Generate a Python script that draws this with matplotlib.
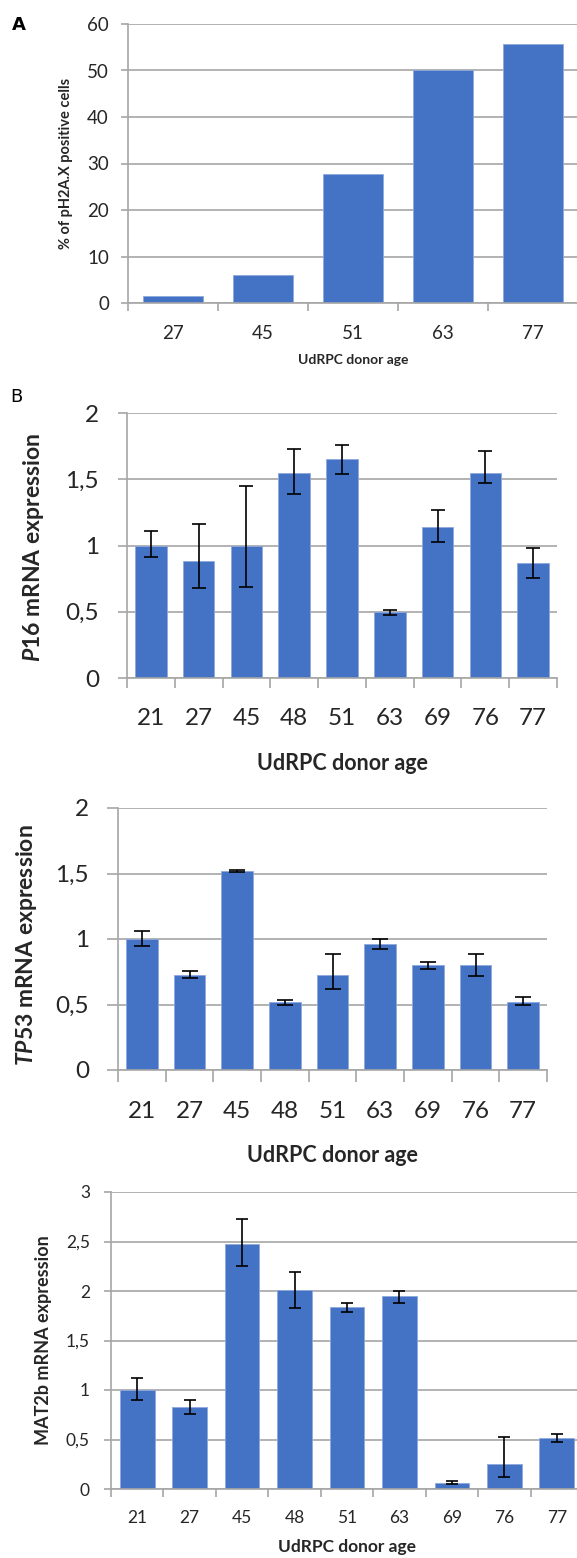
import numpy as np
import matplotlib
matplotlib.use("Agg")
import matplotlib.pyplot as plt
from matplotlib.ticker import FuncFormatter, FixedLocator

plt.rcParams['font.family'] = ['Lato', 'DejaVu Sans']
plt.rcParams['mathtext.fontset'] = 'custom'
plt.rcParams['mathtext.it'] = 'Lato:italic:bold'
plt.rcParams['mathtext.rm'] = 'Lato:bold'

# --- data -------------------------------------------------------------
ages_a = ["27", "45", "51", "63", "77"]
ph2ax_pct = [1.5, 6.0, 27.8, 50.0, 55.8]

ages = ["21", "27", "45", "48", "51", "63", "69", "76", "77"]

p16 = [1.0, 0.886, 1.0, 1.545, 1.65, 0.498, 1.14, 1.545, 0.868]
p16_err_up = [0.11, 0.28, 0.45, 0.18, 0.11, 0.015, 0.13, 0.17, 0.11]
p16_err_dn = [0.09, 0.21, 0.31, 0.16, 0.11, 0.025, 0.11, 0.07, 0.11]

tp53 = [1.0, 0.726, 1.521, 0.52, 0.726, 0.963, 0.80, 0.80, 0.52]
tp53_err_up = [0.06, 0.026, 0.005, 0.012, 0.158, 0.038, 0.025, 0.084, 0.038]
tp53_err_dn = [0.057, 0.02, 0.008, 0.021, 0.104, 0.036, 0.031, 0.079, 0.021]

mat2b = [1.0, 0.829, 2.47, 2.007, 1.834, 1.946, 0.064, 0.25, 0.514]
mat2b_err_up = [0.12, 0.07, 0.26, 0.18, 0.045, 0.055, 0.02, 0.275, 0.045]
mat2b_err_dn = [0.10, 0.07, 0.22, 0.18, 0.045, 0.07, 0.01, 0.13, 0.04]

BLUE = "#4472C4"
GRID = "#a6a6a6"
TXT = "#262626"

W, H = 577, 1558
fig = plt.figure(figsize=(W / 100, H / 100), dpi=100)


def px_rect(left, top, right, bottom):
    return [left / W, 1 - bottom / H, (right - left) / W, (bottom - top) / H]


def fig_xy(x, y):
    return x / W, 1 - y / H


def comma(v, pos):
    return f"{v:g}".replace(".", ",")


def bar_panel(rect, cats, vals, ymax, ystep, err=None, capsize=5,
              tick_fs=13, ytick_len=7, xtick_len=8, ypad=12, xpad=22):
    ax = fig.add_axes(px_rect(*rect))
    x = np.arange(len(cats))
    ax.bar(x, vals, width=0.66, color=BLUE, edgecolor="#8fa9dc",
           linewidth=0.6, zorder=2)
    if err is not None:
        ax.errorbar(x, vals, yerr=err, fmt="none", ecolor="black",
                    elinewidth=1.2, capsize=capsize, capthick=1.2, zorder=3)
    ax.set_xlim(-0.5, len(cats) - 0.5)
    ax.set_ylim(0, ymax)
    ax.set_yticks(np.arange(0, ymax + ystep / 2, ystep))
    ax.yaxis.set_major_formatter(FuncFormatter(comma))
    ax.yaxis.grid(True, color=GRID, linewidth=1.2, zorder=0)
    ax.set_axisbelow(True)

    # labels centred under bars, tick marks between categories
    ax.set_xticks(x)
    ax.set_xticklabels(cats)
    ax.xaxis.set_minor_locator(FixedLocator(np.arange(-0.5, len(cats), 1.0)))
    ax.tick_params(axis="x", which="major", length=0, pad=xpad * 0.72,
                   labelsize=tick_fs, labelcolor=TXT)
    ax.tick_params(axis="x", which="minor", length=xtick_len * 0.72,
                   width=1.2, color=GRID, direction="out")
    ax.tick_params(axis="y", length=ytick_len * 0.72, width=1.2, color=GRID,
                   pad=ypad * 0.72, labelsize=tick_fs, labelcolor=TXT)

    for s in ("top", "right"):
        ax.spines[s].set_visible(False)
    for s in ("left", "bottom"):
        ax.spines[s].set_color(GRID)
        ax.spines[s].set_linewidth(1.2)
    return ax


def place_labels(ax, xlabel, xl_pos, ylabel, yl_pos, fs):
    ax.set_xlabel(xlabel, fontsize=fs[0], fontweight="bold", color=TXT)
    ax.set_ylabel(ylabel, fontsize=fs[1], fontweight="bold", color=TXT)
    ax.xaxis.set_label_coords(*fig_xy(*xl_pos), transform=fig.transFigure)
    ax.yaxis.set_label_coords(*fig_xy(*yl_pos), transform=fig.transFigure)
    ax.xaxis.label.set_va("center")
    ax.yaxis.label.set_va("center")


# A: pH2A.X positive cells
ax_a = bar_panel((128, 24, 578, 303), ages_a, ph2ax_pct, 60, 10,
                 tick_fs=13.5, ytick_len=7, xtick_len=8, ypad=12, xpad=22)
place_labels(ax_a, "UdRPC donor age", (353, 360),
             "% of pH2A.X positive cells", (66, 163), (10, 10.5))

# B: P16
ax_b = bar_panel((127, 413, 557, 678), ages, p16, 2, 0.5,
                 err=[p16_err_dn, p16_err_up], capsize=5,
                 tick_fs=17.5, ytick_len=9, xtick_len=10, ypad=19, xpad=30)
place_labels(ax_b, "UdRPC donor age", (342, 763),
             r"$P16$ mRNA expression", (34, 548), (15.5, 16.5))

# C: TP53
ax_c = bar_panel((118, 808, 547, 1070), ages, tp53, 2, 0.5,
                 err=[tp53_err_dn, tp53_err_up], capsize=5.5,
                 tick_fs=17.5, ytick_len=11, xtick_len=12, ypad=18, xpad=31)
place_labels(ax_c, "UdRPC donor age", (332, 1155),
             r"$TP53$ mRNA expression", (27, 945), (15.5, 16.5))

# D: MAT2b
ax_d = bar_panel((111, 1192, 583, 1489), ages, mat2b, 3, 0.5,
                 err=[mat2b_err_dn, mat2b_err_up], capsize=4,
                 tick_fs=12.5, ytick_len=7, xtick_len=8, ypad=14, xpad=21)
place_labels(ax_d, "UdRPC donor age", (347, 1547),
             "MAT2b mRNA expression", (44, 1340), (12.5, 13))

fig.text(*fig_xy(12, 25), "A", fontsize=13, fontweight="bold",
         family="DejaVu Sans", va="center", ha="left")
fig.text(*fig_xy(10, 397), "B", fontsize=13, family="DejaVu Sans",
         va="center", ha="left")

fig.savefig("out.png", dpi=100)
